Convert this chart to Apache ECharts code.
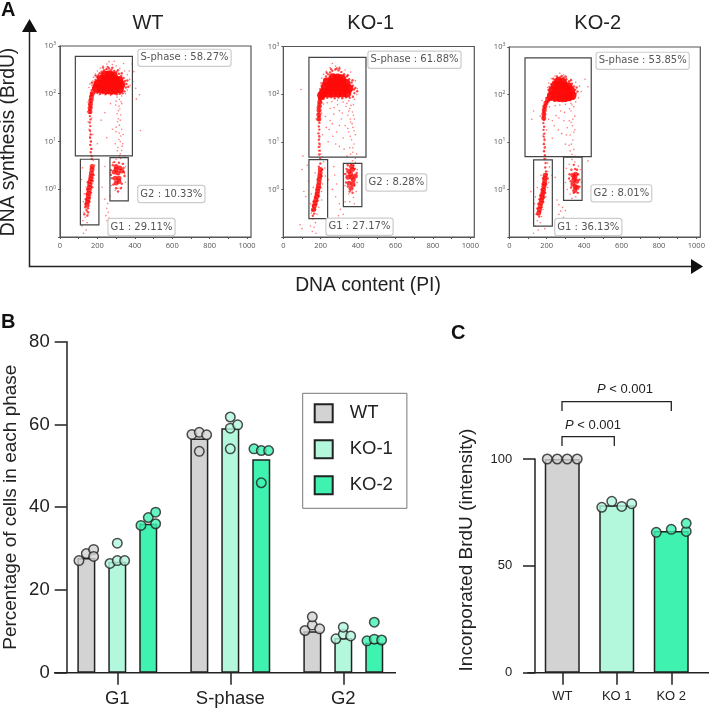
<!DOCTYPE html>
<html>
<head>
<meta charset="utf-8">
<style>html,body{margin:0;padding:0;background:#fff}#chart{width:709px;height:710px}</style>
<script src="https://cdn.jsdelivr.net/npm/echarts@6/dist/echarts.min.js"></script>
</head>
<body>
<div id="chart"></div>
<script>
// panel A: flow plots, [DNA content, BrdU]. core = dense areas, mid = streaks, fringe = edges of the dense areas, sparse = single events
var wtCore = [[195,130],[220,125],[245,122],[270,120],[295,122],[318,125],[205,160],[230,160],[255,160],[280,160],[305,158],[325,155],[220,200],[245,200],[270,200],[295,195],[315,190],[240,245],[265,250],[285,235]];
var wtMid = [[172,3],[171,2.6],[168,2.2],[166,1.9],[164,1.65],[161,1.45],[159,1.25],[157,1.1],[155,.95],[153,.82],[151,.72],[149,.62],[147,.54],[144,.47],[300,3],[320,2.8],[290,2.3],[310,2.2],[330,2.4],[295,1.7],[315,1.7],[300,1.35],[300,2.6],[315,1.45],[172,100],[168,85],[165,72],[163,60],[161,50],[160,42]];
var wtFringe = [[168,105],[172,118],[178,135],[170,98],[165,90],[180,155],[185,175],[190,195],[198,225],[205,245],[212,270],[222,290],[235,310],[248,325],[262,338],[275,320],[290,300],[302,285],[315,262],[328,238],[340,215],[348,185],[355,160],[352,135],[345,112],[335,102],[320,100],[305,98],[290,101],[275,98],[260,102],[245,99],[230,103],[215,100],[200,104],[185,106],[230,355],[255,365],[280,350],[310,310],[330,270],[360,190],[365,140],[190,240],[170,170],[162,75],[165,66],[160,60],[163,52],[159,46],[162,40],[160,34],[163,29],[159,25],[162,21],[160,17],[164,14],[161,12],[165,10],[162,8.5],[167,7],[164,6],[168,5],[170,4.3],[148,1.4],[176,1.5],[180,2],[145,1],[172,1.1],[142,.8],[166,.85],[138,.62],[160,.66],[136,.5],[158,.55],[135,.42],[150,.4],[142,.36],[150,.33],[130,.3],[146,.28],[282,3.2],[272,2.5],[340,2.8],[345,1.9],[278,1.7],[285,1.25],[330,1.3],[290,3.7],[315,3.6],[325,1.05],[300,1.05],[310,.9],[335,3.4],[272,2],[342,2.3]];
var wtSparse = [[165,120],[170,150],[175,185],[180,220],[190,260],[200,300],[215,340],[230,380],[250,420],[262,470],[280,410],[300,380],[320,340],[345,300],[360,250],[372,200],[375,150],[360,120],[350,100],[330,90],[300,95],[270,92],[240,95],[210,95],[185,100],[160,160],[155,135],[390,180],[405,130],[425,95],[385,420],[370,300],[340,430],[290,480],[250,330],[395,290],[408,78],[300,70],[315,55],[320,48],[330,62],[305,38],[312,30],[322,28],[318,22],[330,18],[300,16],[325,13],[315,11],[335,9],[310,7.5],[330,6.5],[322,5.5],[345,5],[295,9],[270,62],[240,40],[220,28],[280,18],[250,12],[200,9],[175,14],[155,18],[150,26],[170,31],[148,42],[172,52],[150,66],[178,76],[163,16],[160,12.5],[168,10],[162,8.4],[170,7],[165,5.8],[172,4.9],[178,4],[185,3.2],[180,1.7],[175,1.3],[140,1.1],[168,1],[130,.8],[165,.75],[125,.55],[155,.45],[140,.38],[128,.33],[150,.3],[135,.26],[122,.22],[145,.2],[118,.17],[140,.14],[125,.12],[270,2.2],[345,2.1],[350,1.4],[340,3.4],[282,3.6],[300,4.2],[325,4.4],[275,1.2],[310,1.05],[330,1.1],[295,.95],[350,3],[255,.5],[250,.4],[258,.33],[245,.28],[262,.25],[252,.22],[240,.62],[268,.72],[430,17],[115,1.6],[120,2.8],[240,3],[225,1.1],[305,85],[318,76],[326,68],[298,58],[312,44],[325,36],[308,26],[300,20],[316,15],[322,10],[306,6.4],[316,5],[332,8],[338,14]];
var ko1Core = [[215,108],[240,105],[265,105],[290,105],[315,105],[340,105],[225,140],[250,140],[275,140],[300,140],[325,138],[350,132],[235,180],[260,180],[285,178],[310,175],[335,170],[265,220],[290,218],[312,210],[205,95]];
var ko1Mid = [[198,2.6],[197,2.2],[195,1.9],[193,1.65],[191,1.4],[188,1.2],[186,1.05],[184,.92],[181,.8],[178,.7],[174,.6],[170,.52],[166,.45],[162,.38],[350,2.4],[370,2.6],[345,1.8],[365,1.8],[385,1.9],[352,1.35],[372,1.3],[362,1.05],[365,3],[360,2.1],[374,1.6],[198,82],[195,68],[193,56],[191,46],[190,37],[190,30]];
var ko1Fringe = [[196,88],[192,78],[198,70],[190,64],[194,56],[189,50],[193,44],[188,39],[192,34],[189,29],[193,25],[190,21],[192,18],[188,15],[192,13],[190,11],[194,9],[190,7.8],[195,6.5],[192,5.4],[197,4.4],[198,3.5],[200,125],[205,150],[210,170],[220,205],[228,235],[240,260],[250,285],[262,310],[278,330],[295,315],[310,290],[325,262],[340,235],[352,205],[365,175],[372,150],[378,125],[380,105],[372,88],[355,84],[335,86],[315,82],[295,85],[275,82],[255,86],[235,84],[215,80],[385,135],[395,115],[370,195],[345,250],[300,345],[255,335],[232,280],[285,345],[205,80],[200,105],[178,1],[198,1.1],[175,.82],[190,.72],[170,.68],[183,.58],[162,.56],[176,.48],[158,.46],[170,.38],[155,.36],[165,.31],[158,.28],[205,1.9],[183,1.6],[208,2.6],[190,3],[332,2.1],[338,2.7],[382,2.7],[345,3.2],[362,3.4],[335,1.4],[345,1.15],[380,1.2],[355,.9],[370,.85],[375,3.2],[392,2.2]];
var ko1Sparse = [[95,125],[195,130],[200,170],[205,215],[215,260],[230,300],[250,360],[262,440],[280,390],[300,370],[330,320],[360,290],[385,190],[395,130],[392,98],[380,78],[350,72],[320,68],[290,74],[260,70],[235,66],[215,62],[375,60],[355,50],[370,42],[345,36],[380,30],[360,26],[372,20],[350,16],[385,14],[365,11],[378,9],[355,7.5],[372,6],[385,4.5],[340,5],[300,45],[270,38],[250,28],[230,20],[285,16],[320,12],[240,10],[210,14],[175,30],[205,40],[180,52],[208,66],[272,52],[310,30],[330,22],[265,13],[300,8],[195,12],[190,9.5],[198,8],[188,6.5],[200,5.5],[208,4.8],[105,5],[100,2.6],[110,.9],[215,3.8],[222,2.8],[225,1.9],[210,1.3],[170,2.2],[160,1.1],[150,.8],[205,.9],[145,.5],[205,.6],[190,.42],[150,.32],[180,.3],[158,.24],[172,.2],[145,.17],[165,.16],[155,.13],[175,.12],[90,.18],[100,.15],[270,3],[275,2],[285,1.3],[262,1],[280,.7],[300,.5],[305,.38],[320,.3],[295,.28],[330,.55],[328,2.1],[330,1.2],[395,2.6],[395,1.4],[390,.9],[350,.8],[375,.68],[355,.55],[380,.5],[340,3.4],[385,3.7],[370,4],[120,.7],[128,3.2],[135,1.5],[240,1.6],[340,64],[362,58],[350,44],[375,36],[358,30],[368,24],[345,19],[378,17],[358,13],[372,7.5],[360,5.5],[392,5.5],[250,50],[225,34],[262,24],[300,22],[315,40],[335,55],[290,60],[245,18],[280,9],[325,7]];
var ko2Core = [[225,92],[248,88],[272,86],[296,86],[318,90],[335,95],[232,120],[256,120],[280,120],[305,120],[328,120],[245,152],[268,152],[292,150],[315,145],[262,185],[285,180]];
var ko2Mid = [[192,2],[191,1.75],[189,1.5],[187,1.3],[185,1.15],[183,1],[180,.88],[177,.78],[175,.68],[172,.6],[169,.52],[165,.45],[161,.38],[157,.32],[340,2],[355,2.1],[345,1.6],[360,1.5],[340,1.3],[352,1.15],[362,1.1],[350,.95],[350,1.8],[205,76],[196,66],[190,56],[187,47],[185,39],[184,32]];
var ko2Fringe = [[212,78],[205,72],[198,66],[192,60],[188,54],[186,48],[183,43],[186,38],[182,33],[185,29],[182,25],[186,21],[183,18],[187,15],[184,13],[188,11],[185,9],[189,7.6],[186,6.4],[190,5.2],[188,4.4],[194,3.6],[192,2.9],[196,2.4],[215,105],[210,125],[215,145],[225,165],[235,185],[245,205],[258,222],[272,232],[290,226],[305,210],[320,190],[335,168],[345,148],[352,125],[355,105],[345,82],[325,76],[305,74],[285,72],[262,74],[240,74],[222,78],[365,115],[360,140],[330,200],[280,245],[255,240],[235,215],[300,240],[208,95],[200,85],[178,1.3],[198,1.3],[172,1],[192,.85],[165,.75],[186,.68],[160,.62],[180,.55],[155,.5],[172,.42],[150,.4],[165,.34],[150,.3],[160,.27],[205,1.7],[180,1.7],[200,2.1],[322,2.1],[328,1.5],[375,1.6],[368,2.1],[330,1.1],[345,.85],[365,.85],[332,2.6],[352,2.7],[345,3.3],[375,1.15],[320,1.7],[362,2.6]];
var ko2Sparse = [[205,105],[195,85],[175,75],[130,45],[120,30],[205,140],[210,175],[225,215],[245,245],[270,280],[290,260],[305,230],[330,210],[355,180],[375,150],[385,115],[370,85],[355,70],[330,65],[300,62],[270,60],[245,58],[215,55],[405,210],[420,145],[345,55],[330,45],[350,35],[320,28],[338,22],[350,18],[325,14],[340,11],[320,8.5],[345,7],[335,5.5],[295,42],[265,32],[240,22],[280,15],[230,12],[300,9],[210,30],[165,35],[200,18],[180,14],[188,12],[185,9.5],[192,8],[186,6.5],[190,5.3],[195,4.5],[205,3.6],[215,3],[205,2.4],[228,2],[210,1.4],[170,2],[150,1.1],[205,1.1],[140,.7],[195,.7],[185,.55],[135,.5],[180,.38],[142,.3],[172,.27],[150,.22],[165,.2],[140,.17],[155,.14],[130,.12],[190,.15],[255,.6],[265,.48],[285,.42],[275,.35],[265,.3],[290,.26],[250,.22],[300,.36],[320,3.4],[350,3.8],[335,4.3],[305,2.8],[300,1.4],[310,1],[325,.8],[370,.85],[355,.7],[335,.65],[380,2.6],[370,3.1],[385,1.4],[245,1.8],[115,.9],[420,4],[335,60],[322,50],[340,30],[330,26],[345,16],[332,9],[325,6.5],[352,5],[275,45],[250,36],[292,28],[262,18],[310,20],[230,28],[305,14]];

// gates: [x from, x to, y from, y to]
var wtGates = [[82,387,5,604],[109,208,.18,4.25],[267,365,.57,4.6]];
var ko1Gates = [[137,442,4.75,590],[137,237,.243,4.2],[321,420,.434,3.5]];
var ko2Gates = [[84,438,4.9,589],[130,230,.17,4.19],[290,389,.59,4.77]];
var flowTicksX = [0,200,400,600,800,1000];
var flowMinorX = [0,100,200,300,400,500,600,700,800,900,1000];

// panel B
var phases = ['G1','S-phase','G2'];
var groups = ['WT','KO-1','KO-2'];
var wtBars = [27.7,56.6,10];
var ko1Bars = [26.8,59.1,8.4];
var ko2Bars = [36,51.6,7.3];
var wtDots = [[27.1,28.8,29.8,28.1],[57.6,58.1,57.5,53.5],[10.2,11.5,10.6,13.5]];
var ko1Dots = [[26.4,27.1,27.1,31.3],[54.1,59.1,59.9,61.8],[8.2,9.3,8.9,11]];
var ko2Dots = [[35.6,37.5,36,38.8],[54.1,53.7,53.7,45.9],[7.7,8.1,7.9,12.2]];
// which side of the bar each dot sits on (-1, 0, 1)
var wtSlots = [[-1,0,1,1],[-1,0,1,0],[-1,0,1,0]];
var ko1Slots = [[-1,0,1,0],[0,0,1,0],[-1,0,1,0]];
var ko2Slots = [[-1,0,1,1],[-1,0,1,0],[-1,0,1,0]];

// panel C
var brduCats = ['WT','KO 1','KO 2'];
var brduBars = [100,78.3,66.3];
var brduDots = [[100,100,100,100],[77.4,80.2,77.8,79.1],[65.7,67.1,66.1,69.9]];
var brduSlots = [[-1.5,-.5,.5,1.5],[-1.5,-.5,.5,1.5],[-1.5,0,1.5,1.5]];

var colors = ['#d3d3d3','#b3f7dd','#3ff2b0'];
var ink = '#222';
var sans = '"Liberation Sans",Arial,sans-serif';

function gateSeries(gates, idx) {
  return {
    type: 'custom', xAxisIndex: idx, yAxisIndex: idx, z: 5, silent: true, data: gates,
    renderItem: function (params, api) {
      var a = api.coord([api.value(0), api.value(3)]);
      var b = api.coord([api.value(1), api.value(2)]);
      return {type: 'rect', shape: {x: a[0], y: a[1], width: b[0]-a[0], height: b[1]-a[1]},
        style: {fill: 'none', stroke: '#444', lineWidth: 1.2}};
    },
    encode: {x: [0,1], y: [2,3]}
  };
}
function cloud(points, idx, size, opacity) {
  return {type: 'scatter', xAxisIndex: idx, yAxisIndex: idx, data: points, symbolSize: size, silent: true,
    itemStyle: {color: '#ff0a0a', opacity: opacity}};
}

// outerBoundsMode none: v6 would otherwise push the grids in to fit the labels
var grids = [
  {left: 60, top: 46, width: 191, height: 191, show: true, borderColor: '#555', borderWidth: 1.2, outerBoundsMode: 'none'},
  {left: 283.3, top: 46.5, width: 191, height: 190.5, show: true, borderColor: '#555', borderWidth: 1.2, outerBoundsMode: 'none'},
  {left: 509.3, top: 47, width: 191, height: 190, show: true, borderColor: '#555', borderWidth: 1.2, outerBoundsMode: 'none'},
  {left: 60.8, top: 341.7, width: 339, height: 331, outerBoundsMode: 'none'},
  {left: 535, top: 459, width: 163.5, height: 213.7, outerBoundsMode: 'none'}
];
var xAxes = [], yAxes = [];
[0,1,2].forEach(function (i) {
  xAxes.push({type: 'value', gridIndex: i, min: 0, max: 1021, splitLine: {show: false},
    axisLine: {lineStyle: {color: '#555'}},
    axisTick: {length: 2, customValues: flowMinorX, lineStyle: {color: '#555'}},
    axisLabel: {customValues: flowTicksX, fontSize: 7.5, color: '#555', margin: 5, fontFamily: '"Open Sans"',
      formatter: function (v) { return String(v); }}});
  yAxes.push({type: 'log', gridIndex: i, logBase: 10, min: .1, max: 1000, splitLine: {show: false},
    axisLine: {lineStyle: {color: '#555'}},
    axisTick: {length: 2, lineStyle: {color: '#555'}},
    axisLabel: {fontSize: 7.5, color: '#555', margin: 4, fontFamily: '"Open Sans"',
      formatter: function (v) { var e = Math.round(Math.log10(v)); return e < 0 ? '' : '10{s|' + e + '}'; },
      rich: {s: {fontSize: 5, color: '#555', verticalAlign: 'top', padding: [0,0,4,0]}}}});
});
// panel B: category axis plus a hidden value axis for the dots
xAxes.push({type: 'category', gridIndex: 3, data: phases,
  axisLine: {show: false}, axisTick: {show: true, length: 12, alignWithLabel: true, lineStyle: {color: ink, width: 1.5}},
  axisLabel: {fontSize: 18.5, color: ink, margin: 17, fontFamily: sans}});
xAxes.push({type: 'value', gridIndex: 3, min: 0, max: 3, show: false});
yAxes.push({type: 'value', gridIndex: 3, min: 0, max: 80, interval: 20, offset: -5.9, splitLine: {show: false},
  axisLine: {show: true, lineStyle: {color: ink, width: 1.5}},
  axisTick: {show: true, length: 12, lineStyle: {color: ink, width: 1.5}},
  name: 'Percentage of cells in each phase', nameLocation: 'middle', nameGap: 46,
  nameTextStyle: {fontSize: 19, color: ink, fontFamily: sans},
  axisLabel: {fontSize: 18.5, color: ink, margin: 17, fontFamily: sans}});
// panel C
xAxes.push({type: 'category', gridIndex: 4, data: brduCats,
  axisLine: {show: false}, axisTick: {show: true, length: 12, alignWithLabel: true, lineStyle: {color: ink, width: 1.5}},
  axisLabel: {fontSize: 13, color: ink, margin: 17, fontFamily: sans}});
xAxes.push({type: 'value', gridIndex: 4, min: 0, max: 3, show: false});
yAxes.push({type: 'value', gridIndex: 4, min: 0, max: 100, interval: 50, offset: 7.7, splitLine: {show: false},
  axisLine: {show: true, lineStyle: {color: ink, width: 1.5}},
  axisTick: {show: true, length: 12, lineStyle: {color: ink, width: 1.5}},
  axisLabel: {fontSize: 13, color: ink, margin: 15, fontFamily: sans}});

var series = [];
[[wtCore,wtMid,wtFringe,wtSparse,wtGates],[ko1Core,ko1Mid,ko1Fringe,ko1Sparse,ko1Gates],[ko2Core,ko2Mid,ko2Fringe,ko2Sparse,ko2Gates]].forEach(function (p, i) {
  series.push(cloud(p[3], i, 1.6, .55), cloud(p[2], i, 2.4, .75), cloud(p[1], i, 5, .8), cloud(p[0], i, 9, .95), gateSeries(p[4], i));
});
[wtBars,ko1Bars,ko2Bars].forEach(function (vals, k) {
  series.push({type: 'bar', name: groups[k], xAxisIndex: 3, yAxisIndex: 3, data: vals, barWidth: 18, barGap: '72%',
    itemStyle: {color: colors[k], borderColor: ink, borderWidth: 1.5}});
});
function dotSeries(vals, slots, k) {
  var pts = [];
  vals.forEach(function (row, g) {
    row.forEach(function (v, d) { pts.push([g + .5 + (k-1)*.2743 + slots[g][d]*.065, v]); });
  });
  return {type: 'scatter', xAxisIndex: 4, yAxisIndex: 3, data: pts, symbolSize: 9.5, clip: false, z: 4,
    itemStyle: {color: colors[k], borderColor: ink, borderWidth: 1.5}};
}
[[wtDots,wtSlots],[ko1Dots,ko1Slots],[ko2Dots,ko2Slots]].forEach(function (p, k) {
  series.push(dotSeries(p[0], p[1], k));
});
series.push({type: 'bar', xAxisIndex: 5, yAxisIndex: 4, barWidth: 35,
  data: brduBars.map(function (v, k) { return {value: v, itemStyle: {color: colors[k]}}; }),
  itemStyle: {borderColor: ink, borderWidth: 1.5}});
brduDots.forEach(function (row, g) {
  series.push({type: 'scatter', xAxisIndex: 6, yAxisIndex: 4, symbolSize: 9.5, clip: false, z: 4,
    data: row.map(function (v, d) { return [g + .5 + brduSlots[g][d]*.183, v]; }),
    itemStyle: {color: colors[g], borderColor: ink, borderWidth: 1.5}});
});

function txt(x, y, text, size, opt) {
  opt = opt || {};
  return {type: 'text', x: x, y: y, rotation: opt.rot || 0, z: 20, silent: true,
    style: {text: text, fontSize: size, fontFamily: sans, fontWeight: opt.weight || 'normal', fill: opt.fill || ink,
      align: opt.align || 'center', verticalAlign: 'middle', rich: opt.rich}};
}
function tag(x0, x1, y0, y1, text) {
  return {type: 'text', x: (x0+x1)/2, y: (y0+y1)/2, z: 20, silent: true,
    style: {text: text, fontSize: 10, fontFamily: '"DejaVu Sans"', fill: '#555', align: 'center', verticalAlign: 'middle',
      backgroundColor: '#fff', borderColor: '#ccc', borderWidth: 1.2, borderRadius: 2, padding: [3,2,3,2]}};
}
function seg(points, width, color) {
  return {type: 'polyline', z: 15, silent: true, shape: {points: points}, style: {fill: 'none', stroke: color || ink, lineWidth: width}};
}
var pRich = {i: {fontStyle: 'italic', fontSize: 13, fontFamily: sans, fill: ink}};
var elements = [
  txt(1, 10, 'A', 20, {weight: 'bold', align: 'left', fill: '#111'}),
  txt(1, 322, 'B', 20, {weight: 'bold', align: 'left', fill: '#111'}),
  txt(451, 333, 'C', 20, {weight: 'bold', align: 'left', fill: '#111'}),
  txt(148, 23, 'WT', 20), txt(370.7, 23, 'KO-1', 20), txt(597.7, 23, 'KO-2', 20),
  txt(9, 142, 'DNA synthesis (BrdU)', 19.3, {rot: Math.PI/2}),
  txt(368, 286, 'DNA content (PI)', 19.3),
  txt(467, 550, 'Incorporated BrdU (intensity)', 19, {rot: Math.PI/2}),
  seg([[29.5,30],[29.5,266.5],[692,266.5]], 1.5),
  {type: 'polygon', z: 15, silent: true, shape: {points: [[29.5,19],[22,32],[37,32]]}, style: {fill: '#111'}},
  {type: 'polygon', z: 15, silent: true, shape: {points: [[703,266.5],[691,259],[691,274]]}, style: {fill: '#111'}},
  tag(137.3,231.7,50,65.7,'S-phase : 58.27%'), tag(137.7,205,186,202,'G2 : 10.33%'), tag(108,175,219,235,'G1 : 29.11%'),
  tag(367.3,461.7,51.7,67.7,'S-phase : 61.88%'), tag(366,426.7,174,191,'G2 : 8.28%'), tag(325.7,393.3,218.7,234.7,'G1 : 27.17%'),
  tag(595.3,690,52.7,69,'S-phase : 53.85%'), tag(591,651.7,185,201.7,'G2 : 8.01%'), tag(554.3,622.3,219,235,'G1 : 36.13%'),
  seg([[54,672.7],[396,672.7]], 1.5),
  seg([[527.3,672.7],[709,672.7]], 1.5),
  seg([[562,446],[562,436.7],[614.3,436.7],[614.3,446]], 1.3),
  seg([[562,411],[562,401.7],[671.3,401.7],[671.3,411]], 1.3),
  txt(593, 425, '{i|P} < 0.001', 13, {rich: pRich}),
  txt(625, 389, '{i|P} < 0.001', 13, {rich: pRich})
];

var chart = echarts.init(document.getElementById('chart'), null, {renderer: 'canvas'});
chart.setOption({
  animation: false,
  backgroundColor: '#fff',
  legend: {
    show: true, data: groups, orient: 'vertical', left: 302.7, top: 393.3, itemWidth: 18, itemHeight: 18, itemGap: 16,
    borderColor: '#777', borderWidth: 1, padding: [10,14,13,11], selectedMode: false, icon: 'rect',
    textStyle: {fontSize: 18.5, color: ink, fontFamily: sans, padding: [0,0,0,12]}
  },
  grid: grids,
  xAxis: xAxes,
  yAxis: yAxes,
  series: series,
  graphic: {elements: elements}
});
</script>
</body>
</html>
